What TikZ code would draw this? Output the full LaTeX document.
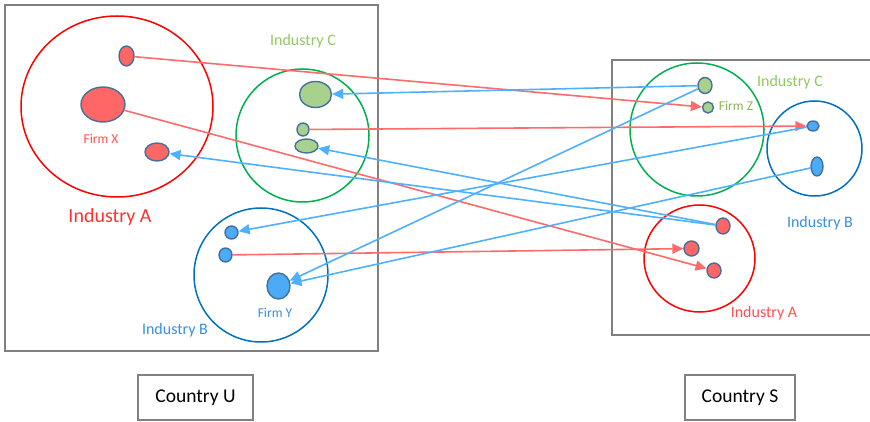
\documentclass[tikz,border=0pt]{standalone}
\usepackage{fontspec}
\setmainfont{Carlito}
\usetikzlibrary{shapes.geometric,arrows.meta}
\definecolor{frameGray}{HTML}{808080}
\definecolor{indRed}{HTML}{FF0000}
\definecolor{indGreen}{HTML}{00B050}
\definecolor{indBlue}{HTML}{0070C0}
\definecolor{firmRed}{HTML}{FF6666}
\definecolor{firmGreen}{HTML}{A9D18E}
\definecolor{firmBlue}{HTML}{4DAAF5}
\definecolor{firmEdge}{HTML}{41719C}
\definecolor{arrRed}{HTML}{FF6B6B}
\definecolor{arrBlue}{HTML}{50B0FF}
\definecolor{lblRed}{HTML}{FF3030}
\definecolor{lblRedSoft}{HTML}{FF5050}
\definecolor{lblGreen}{HTML}{92C860}
\definecolor{lblOlive}{HTML}{8DB45A}
\definecolor{lblBlue}{HTML}{3C8DDB}
\tikzset{
  firm/.style={ellipse, draw=firmEdge, line width=1.4pt, inner sep=0pt},
  industry/.style={ellipse, line width=1.5pt, inner sep=0pt},
  redflow/.style={draw=arrRed, line width=1.6pt, -{Triangle[length=11pt,width=10pt]}},
  blueflow/.style={draw=arrBlue, line width=1.6pt, -{Triangle[length=11pt,width=10pt]}},
  countrybox/.style={draw=frameGray, line width=1.4pt},
  lbl/.style={font=\fontsize{16}{18}\selectfont, inner sep=0pt},
  firmlbl/.style={font=\fontsize{13.5}{15}\selectfont, inner sep=0pt},
}
\begin{document}
\begin{tikzpicture}[x=1pt,y=-1pt]
\useasboundingbox (0,0) rectangle (870,422);
% country frames
\draw[countrybox] (5,5) rectangle (378,351);
\draw[countrybox] (612,60) rectangle (880,335);
\node[countrybox, minimum width=115pt, minimum height=45pt, font=\fontsize{19.5}{21}\selectfont] (cu) at (195.5,397.5) {Country U};
\node[countrybox, minimum width=110pt, minimum height=45pt, font=\fontsize{19.5}{21}\selectfont] (cs) at (740,397.5) {Country S};

% ---- Country U ----
\node[industry, draw=indRed, minimum width=192pt, minimum height=181pt] (uA) at (117,106.5) {};
\node[industry, draw=indGreen, minimum width=133pt, minimum height=133pt] (uC) at (302.5,135.5) {};
\node[industry, draw=indBlue, minimum width=134pt, minimum height=134pt] (uB) at (261,275) {};
\node[lbl, text=lblRed, font=\fontsize{20}{22}\selectfont] (uAl) at (110,217) {Industry A};
\node[lbl, text=lblGreen] (uCl) at (303,41) {Industry C};
\node[lbl, text=lblBlue] (uBl) at (175,330) {Industry B};

\node[firm, fill=firmRed, minimum width=15pt, minimum height=20pt] (ua1) at (126.5,56) {};
\node[firm, fill=firmRed, minimum width=44pt, minimum height=35pt] (ux) at (103,104.5) {};
\node[firm, fill=firmRed, minimum width=24pt, minimum height=18pt] (ua3) at (157,152) {};
\node[firmlbl, text=lblRedSoft] (uxl) at (101,139) {Firm X};

\node[firm, fill=firmGreen, minimum width=32pt, minimum height=26pt] (uc1) at (315.5,94.5) {};
\node[firm, fill=firmGreen, minimum width=12pt, minimum height=13pt] (uc2) at (303,129.5) {};
\node[firm, fill=firmGreen, minimum width=23pt, minimum height=14pt] (uc3) at (306.5,146) {};

\node[firm, fill=firmBlue, minimum width=13pt, minimum height=13pt] (ub1) at (231.5,232.5) {};
\node[firm, fill=firmBlue, minimum width=13pt, minimum height=14pt] (ub2) at (225.5,255) {};
\node[firm, fill=firmBlue, minimum width=23pt, minimum height=26pt] (uy) at (278.5,286) {};
\node[firmlbl, text=lblBlue] (uyl) at (275,313) {Firm Y};

% ---- Country S ----
\node[industry, draw=indGreen, minimum width=134pt, minimum height=133pt] (sC) at (697,129.5) {};
\node[industry, draw=indBlue, minimum width=95pt, minimum height=95pt] (sB) at (814.5,148.5) {};
\node[industry, draw=indRed, minimum width=111pt, minimum height=107pt] (sA) at (699.5,258.5) {};
\node[lbl, text=lblGreen] (sCl) at (790,82) {Industry C};
\node[lbl, text=lblBlue] (sBl) at (820,223) {Industry B};
\node[lbl, text=lblRedSoft] (sAl) at (764,313) {Industry A};

\node[firm, fill=firmGreen, minimum width=14pt, minimum height=16pt] (sc1) at (705,85.5) {};
\node[firm, fill=firmGreen, minimum width=11pt, minimum height=11pt] (sz) at (708,107.5) {};
\node[firmlbl, text=lblOlive] (szl) at (736,106) {Firm Z};

\node[firm, fill=firmBlue, minimum width=12pt, minimum height=10pt] (sb1) at (813,126) {};
\node[firm, fill=firmBlue, minimum width=12pt, minimum height=19pt] (sb2) at (817,166.5) {};

\node[firm, fill=firmRed, minimum width=14pt, minimum height=16pt] (sa1) at (723,226) {};
\node[firm, fill=firmRed, minimum width=15pt, minimum height=15pt] (sa2) at (691.5,248.5) {};
\node[firm, fill=firmRed, minimum width=14pt, minimum height=15pt] (sa3) at (714,270.5) {};

% ---- flows from U to S ----
\draw[redflow] (ua1) -- (sz);
\draw[redflow] (ux) -- (sa3);
\draw[redflow] (uc2) -- (sb1);
\draw[redflow] (ub2) -- (sa2);

% ---- flows from S to U ----
\draw[blueflow] (sc1) -- (uc1);
\draw[blueflow] (sc1) -- (uy);
\draw[blueflow] (sb1) -- (ub1);
\draw[blueflow] (sb2) -- (uy);
\draw[blueflow] (sa1) -- (ua3);
\draw[blueflow] (sa1) -- (uc3);
\end{tikzpicture}
\end{document}
